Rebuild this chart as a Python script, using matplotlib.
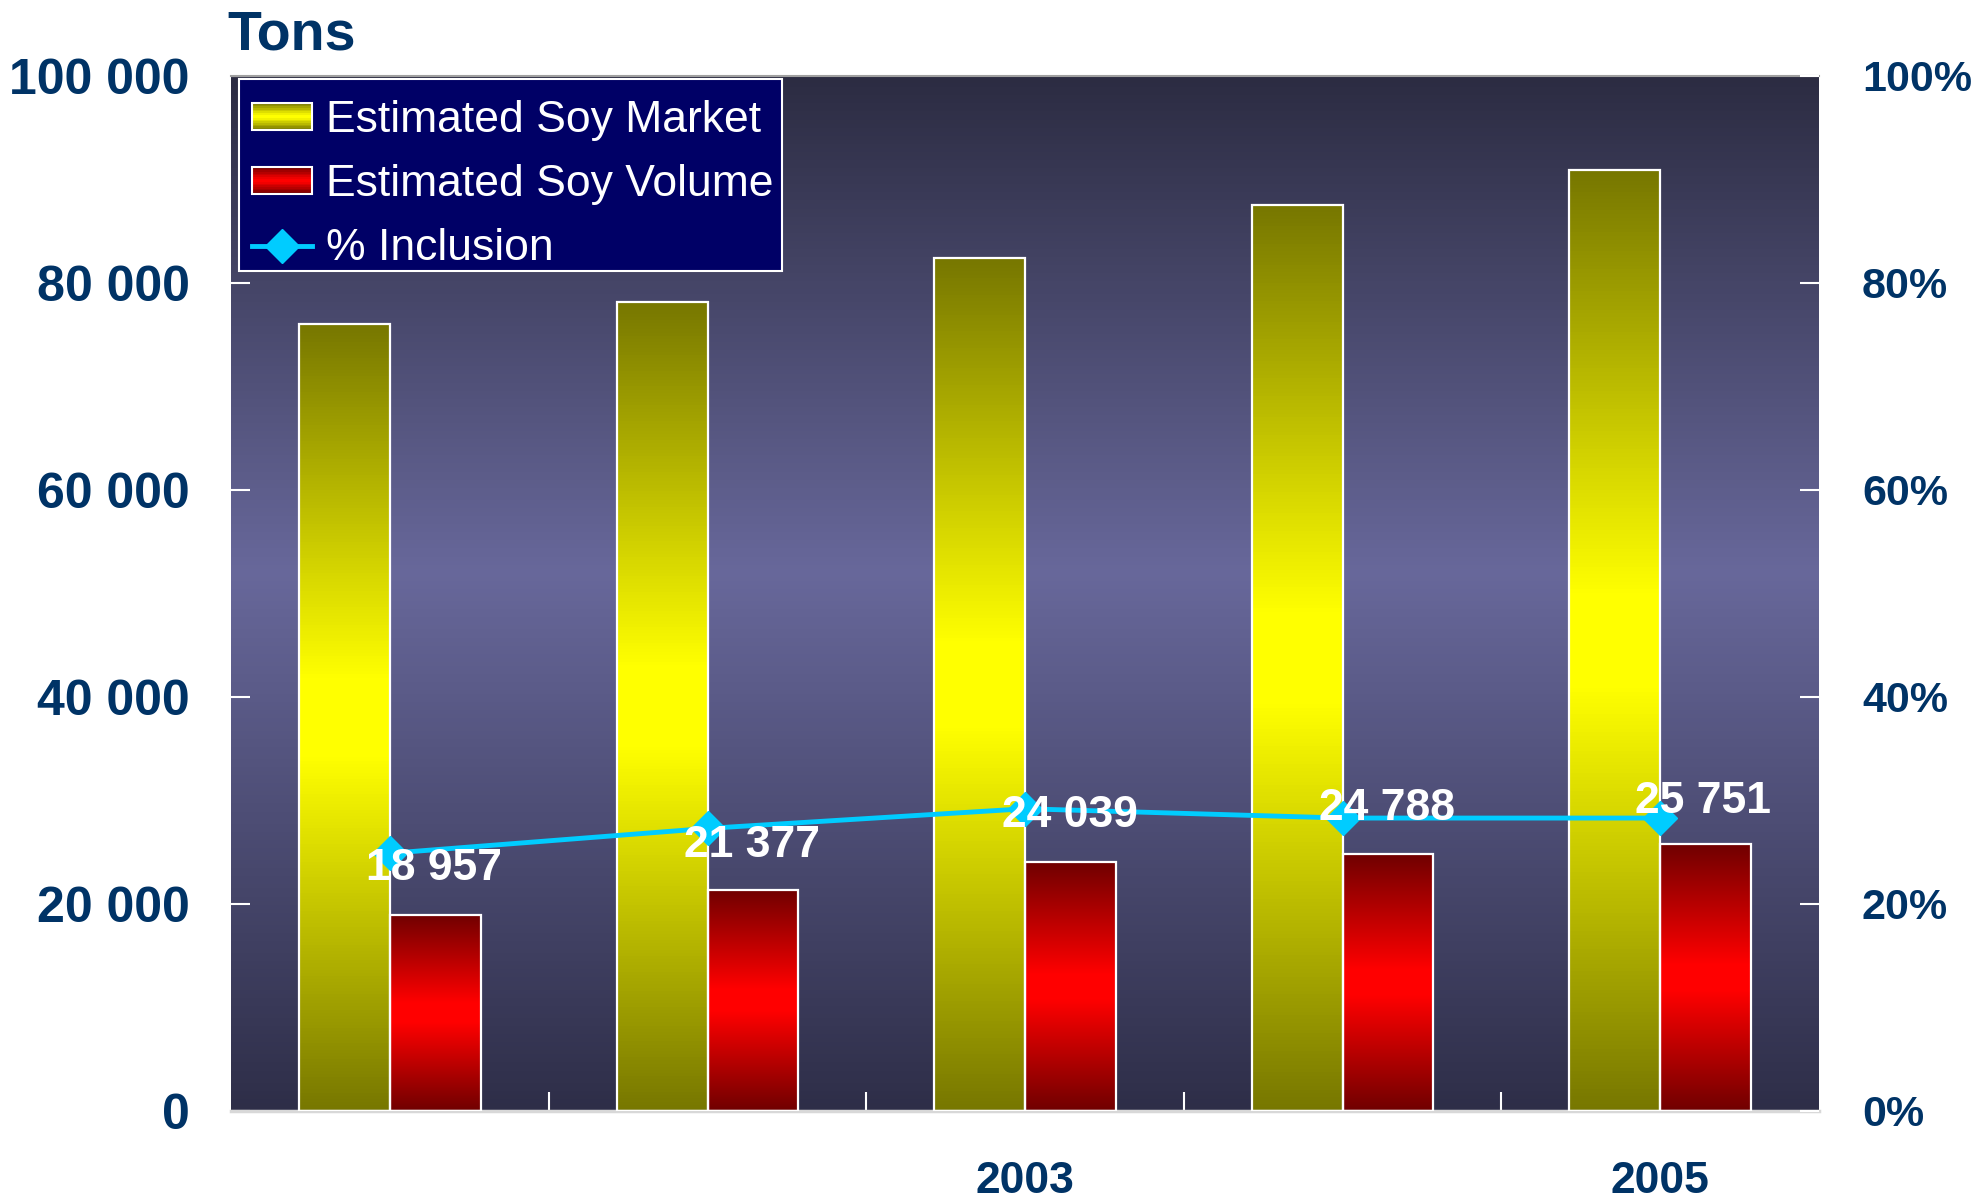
"""Soy market vs soy volume, with % inclusion on a second axis."""
import matplotlib
matplotlib.use("Agg")
import matplotlib.pyplot as plt
import numpy as np
from matplotlib.colors import LinearSegmentedColormap
from matplotlib.legend_handler import HandlerBase
from matplotlib.lines import Line2D
from matplotlib.patches import Rectangle
from matplotlib.ticker import FuncFormatter, FixedLocator

plt.rcParams["font.family"] = ["Liberation Sans", "DejaVu Sans"]

years = ["2001", "2002", "2003", "2004", "2005"]
year_labels = ["", "", "2003", "", "2005"]
soy_market = [76000, 78200, 82400, 87500, 90900]
soy_volume = [18957, 21377, 24039, 24788, 25751]
inclusion_pct = [24.9, 27.3, 29.2, 28.3, 28.3]
# label offsets in points (dx, dy) relative to the line markers
label_offsets = [(32, -11), (32, -12), (32, -5), (32, 7), (31, 12)]

NAVY = "#003366"
CYAN = "#00ccff"

yellow_cmap = LinearSegmentedColormap.from_list(
    "yel", [(0, "#777700"), (0.45, "#ffff00"), (0.55, "#ffff00"), (1, "#777700")])
red_cmap = LinearSegmentedColormap.from_list(
    "red", [(0, "#700000"), (0.45, "#ff0000"), (0.55, "#ff0000"), (1, "#700000")])
bg_cmap = LinearSegmentedColormap.from_list(
    "bg", [(0, "#2c2c42"), (0.48, "#68689b"), (1, "#2e2e48")])
grad = np.linspace(0, 1, 256).reshape(-1, 1)


class GradientHandler(HandlerBase):
    def __init__(self, cmap):
        super().__init__()
        self.cmap = cmap

    def create_artists(self, legend, orig_handle, xdescent, ydescent,
                       width, height, fontsize, trans):
        arts = []
        n = 16
        for i in range(n):
            c = self.cmap((i + 0.5) / n)
            arts.append(Rectangle((-xdescent, -ydescent + height * i / n), width,
                                  height / n, facecolor=c, edgecolor="none",
                                  transform=trans))
        arts.append(Rectangle((-xdescent, -ydescent), width, height,
                              facecolor="none", edgecolor="white", lw=1.5,
                              transform=trans))
        return arts


fig = plt.figure(figsize=(19.76, 12), dpi=100)
ax = fig.add_axes([0.117, 0.0742, 0.8035, 0.8625])

x = np.arange(len(years))
w = 0.286

# background gradient
ax.imshow(grad, cmap=bg_cmap, aspect="auto", extent=(0, 1, 0, 1),
          transform=ax.transAxes, zorder=0)

bars_m = ax.bar(x - w / 2, soy_market, w, facecolor="none", edgecolor="white",
                lw=1.6, zorder=3)
bars_v = ax.bar(x + w / 2, soy_volume, w, facecolor="none", edgecolor="white",
                lw=1.6, zorder=3)
for bars, cmap in ((bars_m, yellow_cmap), (bars_v, red_cmap)):
    for b in bars:
        x0, y0 = b.get_x(), b.get_y()
        ax.imshow(grad, cmap=cmap, aspect="auto", origin="lower",
                  extent=(x0, x0 + b.get_width(), y0, y0 + b.get_height()),
                  zorder=2)

ax.set_xlim(-0.5, len(years) - 0.5)
ax.set_ylim(0, 100000)
ax.set_yticks(np.arange(0, 100001, 20000))
ax.yaxis.set_major_formatter(FuncFormatter(lambda v, p: f"{int(v):,}".replace(",", " ")))
ax.set_xticks(x)
ax.set_xticklabels(year_labels)
ax.xaxis.set_minor_locator(FixedLocator(x[:-1] + 0.5))
ax.tick_params(axis="x", which="major", length=0, pad=36, labelsize=32,
               labelcolor=NAVY)
ax.tick_params(axis="x", which="minor", direction="in", length=14, width=1.5,
               color="white")
ax.tick_params(axis="y", direction="in", length=14, width=1.5, color="white",
               labelsize=36, labelcolor=NAVY, pad=30)
for lab in ax.get_xticklabels() + ax.get_yticklabels():
    lab.set_fontweight("bold")
for s in ("left", "right"):
    ax.spines[s].set_visible(False)
ax.spines["bottom"].set_color("#d8d8d8")
ax.spines["bottom"].set_linewidth(2.5)
ax.spines["top"].set_color("#a0a0a0")
ax.spines["top"].set_linewidth(1.5)

ax2 = ax.twinx()
ax2.set_ylim(0, 100)
ax2.set_yticks(np.arange(0, 101, 20))
ax2.yaxis.set_major_formatter(FuncFormatter(lambda v, p: f"{int(v)}%"))
ax2.tick_params(axis="y", direction="in", length=14, width=1.5, color="white",
                labelsize=31, labelcolor=NAVY, pad=31)
for lab in ax2.get_yticklabels():
    lab.set_fontweight("bold")
for s in ax2.spines.values():
    s.set_visible(False)

ax2.plot(x, inclusion_pct, color=CYAN, lw=3.5, marker="D", markersize=17,
         zorder=4)
for xi, p, v, (dx, dy) in zip(x, inclusion_pct, soy_volume, label_offsets):
    ax2.annotate(f"{v:,}".replace(",", " "), (xi, p), xytext=(dx, dy),
                 textcoords="offset points", ha="center", va="center",
                 color="white", fontsize=32, fontweight="bold", zorder=5)

# legend frame drawn separately so the rows can sit where the original has them
ax2.add_patch(Rectangle((0.005, 0.8116), 0.342, 0.1854, transform=ax2.transAxes,
                        facecolor="#000066", edgecolor="white", lw=1.5,
                        zorder=5.5))

h_m = Rectangle((0, 0), 1, 1)
h_v = Rectangle((0, 0), 1, 1)
h_l = Line2D([], [], color=CYAN, lw=3.5, marker="D", markersize=17)
leg = ax2.legend([h_m, h_v, h_l],
                 ["Estimated Soy Market", "Estimated Soy Volume", "% Inclusion"],
                 handler_map={h_m: GradientHandler(yellow_cmap),
                              h_v: GradientHandler(red_cmap)},
                 loc="upper left", bbox_to_anchor=(0.005, 0.9897), fontsize=32,
                 frameon=False, labelcolor="white",
                 labelspacing=0.52, handlelength=1.35, handleheight=0.55,
                 handletextpad=0.3, borderpad=0.3, borderaxespad=0)
leg.set_zorder(6)

fig.text(0.115, 0.992, "Tons", color=NAVY, fontsize=40, fontweight="bold",
         ha="left", va="top")

fig.savefig("out.png", dpi=100)
